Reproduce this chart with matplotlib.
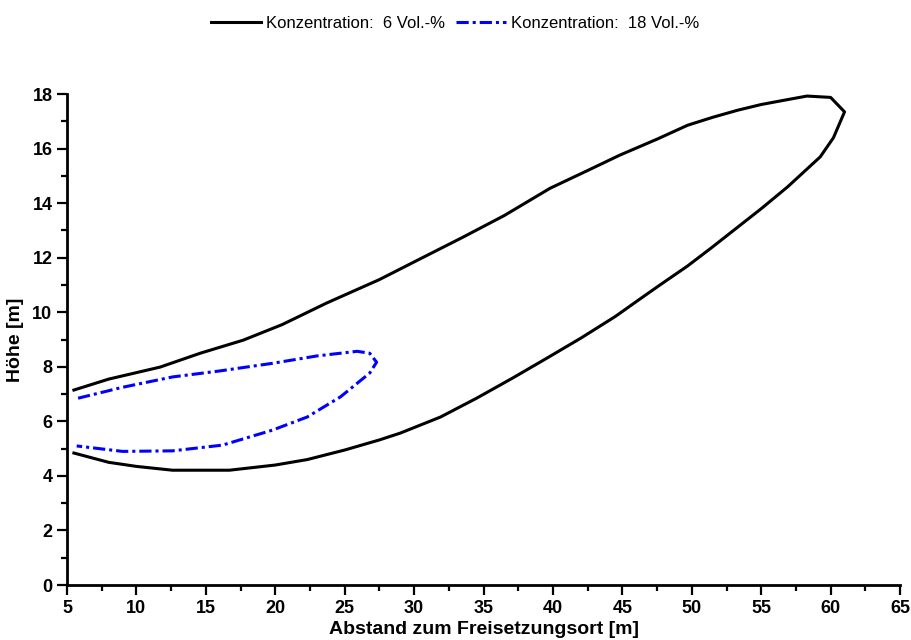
import matplotlib.pyplot as plt
import numpy as np

plt.rcParams["font.family"] = ["Liberation Sans", "DejaVu Sans"]

# Konzentration 6 Vol.-% (closed contour, upper branch then lower branch)
x_6 = [5.5, 8.0, 11.7, 14.6, 17.7, 20.5, 23.7, 27.5, 30.4, 33.5, 36.5,
       39.8, 42.5, 44.8, 47.5, 49.7, 51.5, 53.3, 55.0, 56.9, 58.3, 60.0, 61.0,
       60.2, 59.25, 56.9, 55.0, 53.3, 51.5, 49.7, 47.7, 46.3, 44.5, 42.0,
       39.5, 37.1, 34.5, 31.9, 29.0, 27.5, 25.0, 22.3, 20.0, 16.7, 12.6,
       10.0, 8.0, 5.5]
y_6 = [7.15, 7.55, 7.99, 8.5, 8.98, 9.55, 10.34, 11.2, 11.95, 12.75, 13.55,
       14.55, 15.2, 15.76, 16.35, 16.86, 17.15, 17.41, 17.62, 17.8, 17.93, 17.88, 17.35,
       16.4, 15.7, 14.6, 13.8, 13.12, 12.4, 11.7, 11.0, 10.5, 9.85, 9.05,
       8.3, 7.59, 6.85, 6.16, 5.57, 5.32, 4.95, 4.6, 4.4, 4.21, 4.21,
       4.35, 4.5, 4.84]

# Konzentration 18 Vol.-%
x_18 = [5.8, 9.0, 12.6, 16.0, 19.8, 23.0, 25.9, 26.8, 27.3, 26.8, 24.7, 22.3,
        19.8, 16.2, 12.6, 9.0, 5.7]
y_18 = [6.85, 7.25, 7.63, 7.85, 8.13, 8.4, 8.57, 8.5, 8.17, 7.77, 6.9, 6.16,
        5.68, 5.13, 4.92, 4.9, 5.1]

fig = plt.figure(figsize=(9.11, 6.4), dpi=100)
ax = fig.add_axes([0.0735, 0.0859, 0.9145, 0.767])

ax.plot(x_6, y_6, color="black", lw=2.2, label="Konzentration:  6 Vol.-%")
ax.plot(x_18, y_18, color="#0000ff", lw=2.2, linestyle=(0, (4, 1.3, 1, 1.3)),
        label="Konzentration:  18 Vol.-%")

ax.set_xlim(5, 65)
ax.set_ylim(0, 18)
ax.set_xticks(np.arange(5, 66, 5))
ax.set_yticks(np.arange(0, 19, 2))
ax.set_xticks(np.arange(7.5, 65, 5), minor=True)
ax.set_yticks(np.arange(1, 18, 2), minor=True)

for side in ["top", "right"]:
    ax.spines[side].set_visible(False)
for side in ["left", "bottom"]:
    ax.spines[side].set_linewidth(2)

ax.tick_params(which="major", direction="out", length=7, width=1.6, labelsize=13)
ax.tick_params(which="minor", direction="out", length=4, width=1.6)
for lab in ax.get_xticklabels() + ax.get_yticklabels():
    lab.set_fontweight("bold")

# reference cuts the x label at the bottom edge; keep it just inside
ax.set_xlabel("Abstand zum Freisetzungsort [m]", fontsize=14, fontweight="bold", labelpad=3)
ax.set_ylabel("Höhe [m]", fontsize=14, fontweight="bold", labelpad=6)

fig.legend(loc="center", bbox_to_anchor=(0.5, 1 - 23 / 640), ncol=2, frameon=False,
           fontsize=12, handlelength=3.0, handletextpad=0.3, columnspacing=0.66)

fig.savefig("out.png", dpi=100)
